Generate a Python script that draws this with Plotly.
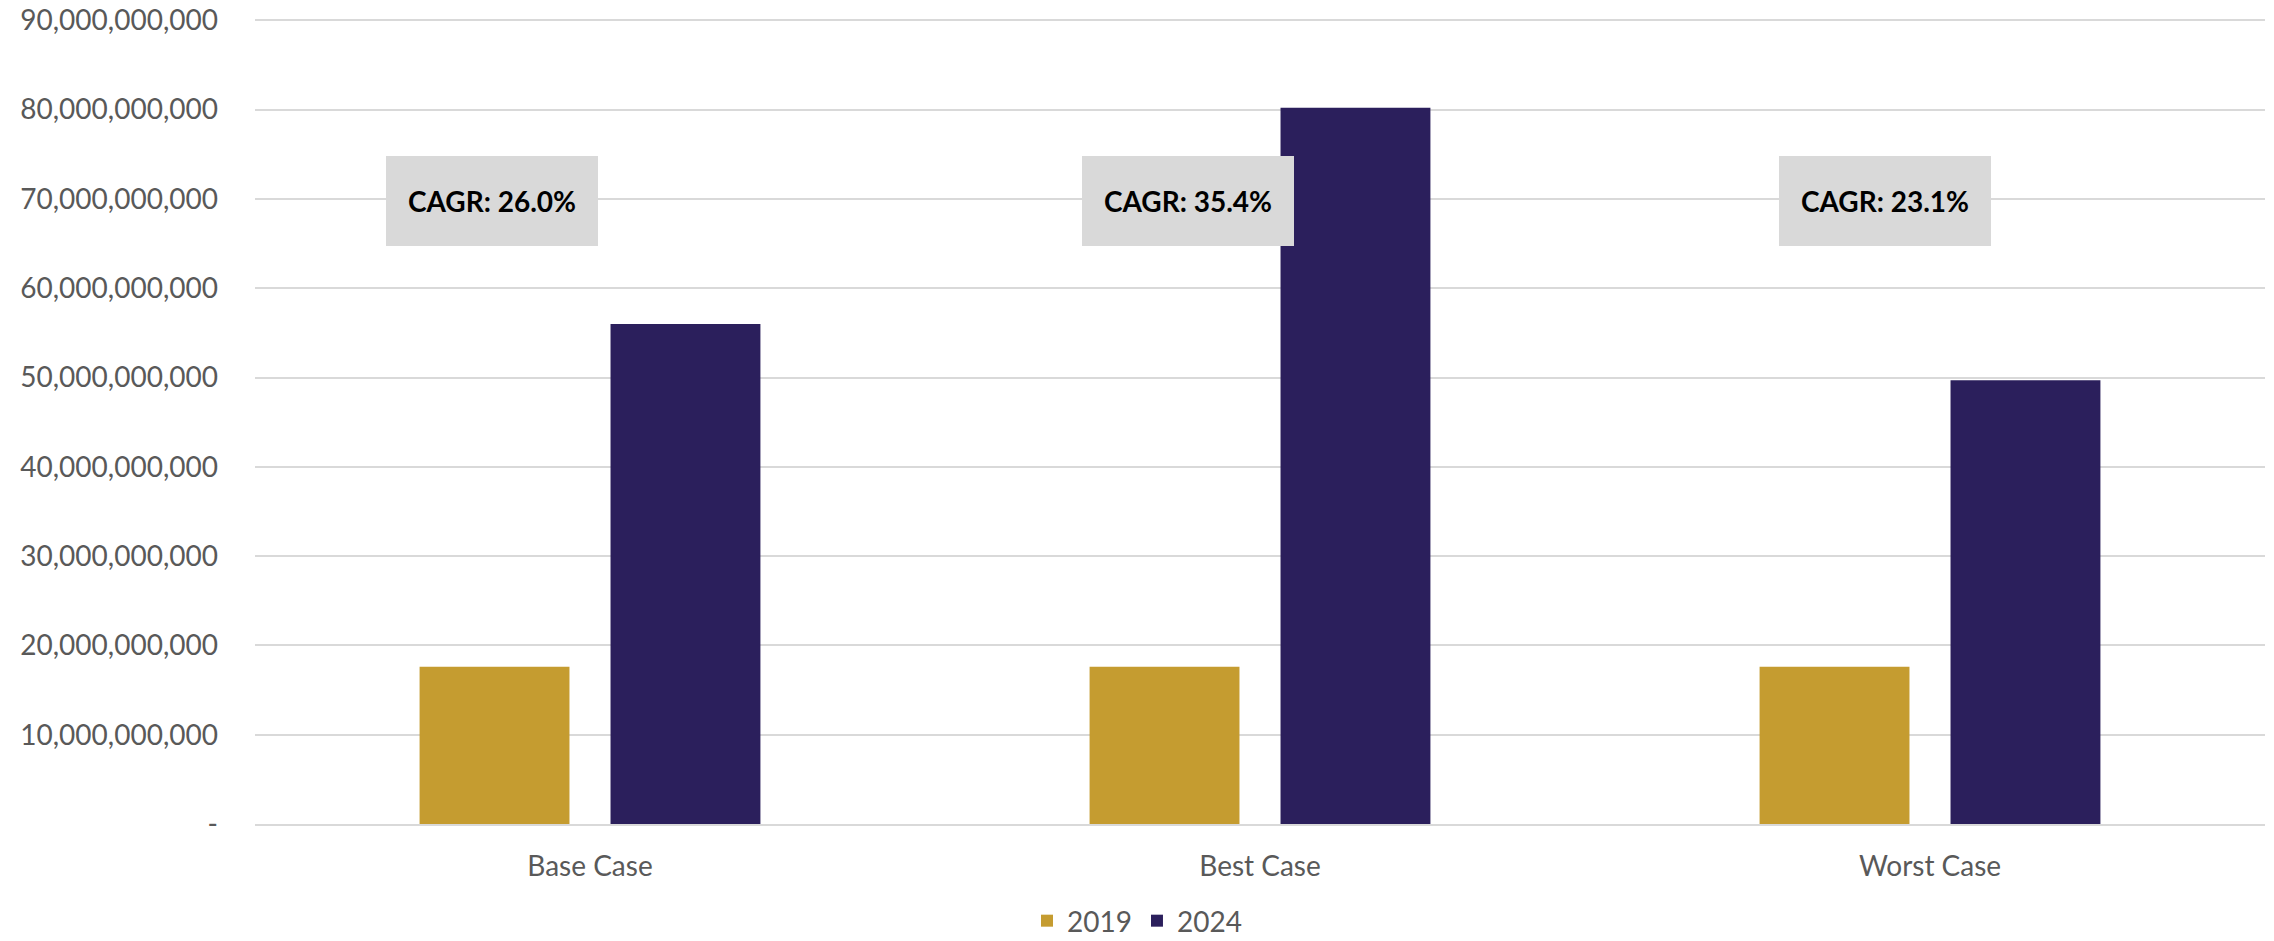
import plotly.graph_objects as go

categories = ["Base Case", "Best Case", "Worst Case"]
series_names = ["2019", "2024"]
values_2019 = [17.6e9, 17.6e9, 17.6e9]
values_2024 = [56.0e9, 80.2e9, 49.7e9]
cagr_labels = ["CAGR: 26.0%", "CAGR: 35.4%", "CAGR: 23.1%"]
cagr_x_paper = [0.118, 0.464, 0.811]
cagr_y = [69.8e9, 69.8e9, 69.8e9]
tick_values = [0, 10e9, 20e9, 30e9, 40e9, 50e9, 60e9, 70e9, 80e9, 90e9]
tick_labels = ["-"] + [f"{v:,.0f}" for v in tick_values[1:]]

colors = ["#C59C30", "#2B1F5C"]
FONT = "Lato"

fig = go.Figure()
fig.add_trace(go.Bar(x=categories, y=values_2019, name=series_names[0],
                     marker=dict(color=colors[0], line=dict(width=0))))
fig.add_trace(go.Bar(x=categories, y=values_2024, name=series_names[1],
                     marker=dict(color=colors[1], line=dict(width=0))))

for txt, xp, yv in zip(cagr_labels, cagr_x_paper, cagr_y):
    fig.add_annotation(x=xp, xref="paper", y=yv, yref="y", text="<b>" + txt + "</b>",
                       showarrow=False, bgcolor="#D9D9D9", bordercolor="#D9D9D9",
                       borderwidth=1, borderpad=4, width=202, height=80,
                       font=dict(family=FONT, size=28, color="#000000"),
                       xanchor="center", yanchor="middle")

fig.update_layout(
    width=2258, height=925,
    margin=dict(l=247, r=1, t=11, b=109, autoexpand=False),
    paper_bgcolor="white", plot_bgcolor="white",
    barmode="group", bargap=0.43, bargroupgap=0.215,
    font=dict(family=FONT, size=28, color="#595959"),
    showlegend=True,
    legend=dict(orientation="h", xref="container", yref="container",
                x=0.5, xanchor="center", y=0.013, yanchor="middle",
                font=dict(family=FONT, size=28, color="#595959"),
                tracegroupgap=0),
)
fig.update_yaxes(range=[0, 90.15e9], tickvals=tick_values, ticktext=tick_labels,
                 showgrid=True, gridcolor="#D9D9D9", gridwidth=1.5,
                 zeroline=False, showline=False, ticks="",
                 ticklabelstandoff=36, ticklabeloverflow="allow",
                 tickfont=dict(family=FONT, size=28, color="#595959"))
fig.update_xaxes(showgrid=False, showline=True, linecolor="#D9D9D9", linewidth=1.5,
                 ticks="", ticklabelstandoff=17,
                 tickfont=dict(family=FONT, size=28, color="#595959"))

fig.write_html("out.html")
